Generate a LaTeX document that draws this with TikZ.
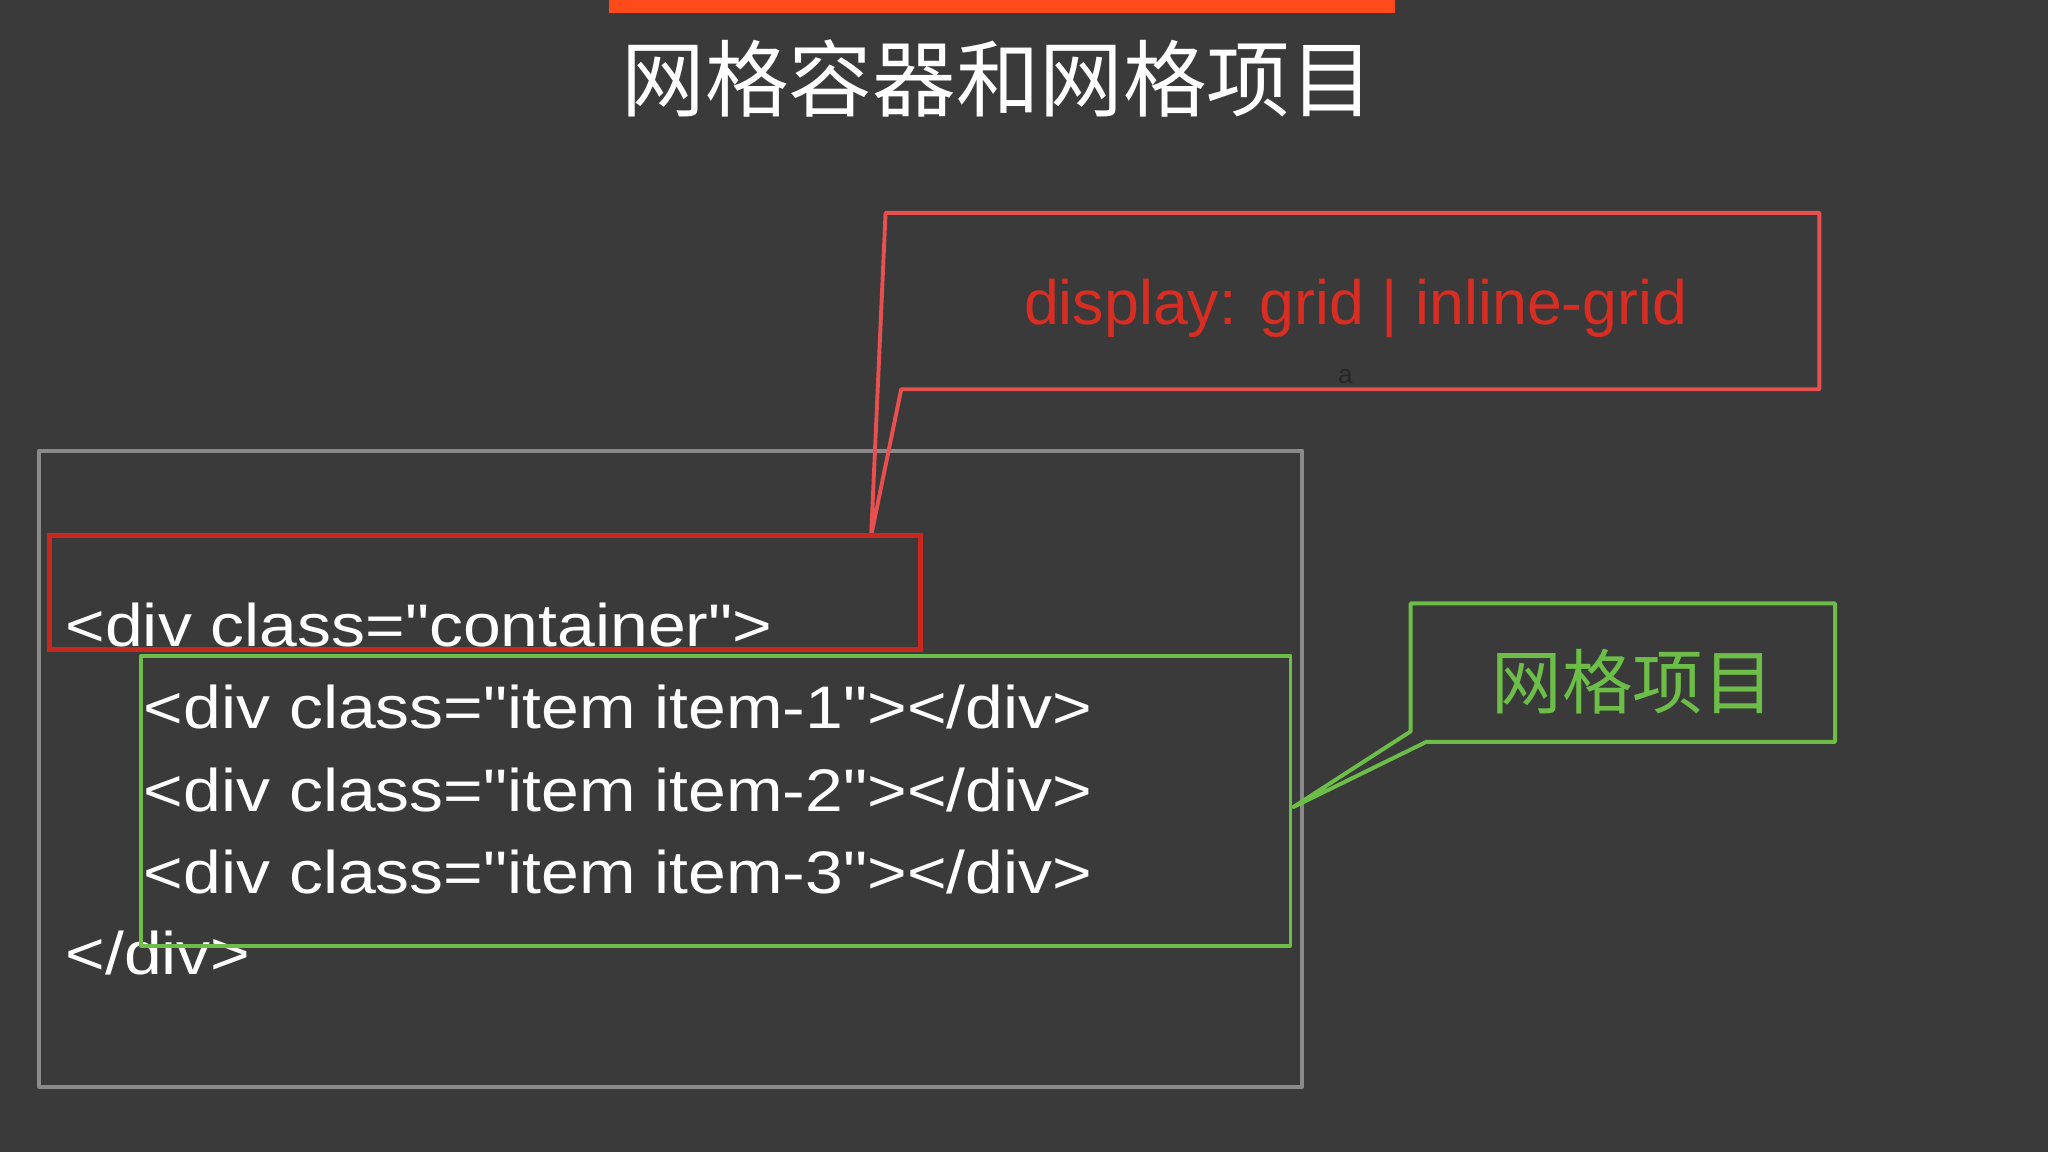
\documentclass[tikz,border=0pt]{standalone}
\usepackage{fontspec}
\setmainfont{Liberation Sans}
\newfontfamily\codefont{Liberation Sans}
\newfontfamily\cjk{Noto Sans CJK SC}
\definecolor{bg}{RGB}{58,58,58}
\definecolor{bar}{RGB}{255,74,28}
\definecolor{cred}{RGB}{232,80,80}
\definecolor{tred}{RGB}{215,45,35}
\definecolor{bred}{RGB}{200,40,30}
\definecolor{gbox}{RGB}{138,138,138}
\definecolor{cgreen}{RGB}{108,190,72}
\begin{document}
\begin{tikzpicture}[x=1pt,y=-1pt,
  code/.style={anchor=base west,text=white,font=\codefont\fontsize{46}{50}\selectfont,inner sep=0,xscale=1.13},
  boxline/.style={line width=3pt,line join=round}]
\fill[bg] (0,0) rectangle (1568,882);
\useasboundingbox (0,0) rectangle (1568,882);
\fill[bar] (466,0) rectangle (1068,10);
\node[text=white,font=\cjk\fontsize{64}{66}\selectfont] (title) at (764,60) {网格容器和网格项目};
% gray container
\draw[gbox,boxline] (30,345) rectangle (997,832);
% red callout
\draw[cred,boxline] (678,163) -- (1393,163) -- (1393,298) -- (690,298) -- (667,410) -- cycle;
\node[text=tred,font=\fontsize{48}{50}\selectfont] (disp) at (1038,236) {display: grid | inline-grid};
\node[text=black!85,font=\fontsize{20}{22}\selectfont] (a) at (1030,288) {a};
% red box
\draw[bred,line width=4pt] (38,410) rectangle (705,497);
% code
\node[code] (l0) at (50,495) {<div class="container">};
\node[code] (l1) at (110,558) {<div class="item item-1"></div>};
\node[code] (l2) at (110,621) {<div class="item item-2"></div>};
\node[code] (l3) at (110,684) {<div class="item item-3"></div>};
\node[code] (l4) at (50,746) {</div>};
% green box
\draw[cgreen,boxline] (108,502) rectangle (988,724);
% green callout
\draw[cgreen,boxline] (1080,462) -- (1405,462) -- (1405,568) -- (1092,568) -- (990,618) -- (1080,560) -- cycle;
\node[text=cgreen,font=\cjk\fontsize{54}{56}\selectfont] (gi) at (1250,522) {网格项目};
\end{tikzpicture}
\end{document}
